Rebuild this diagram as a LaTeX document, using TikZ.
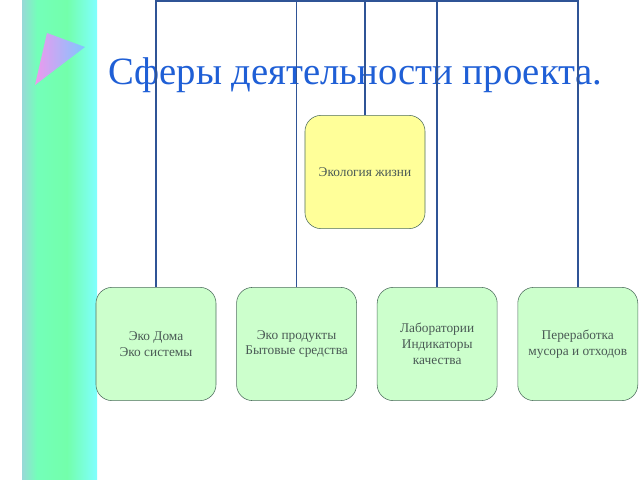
\documentclass[tikz,border=0pt]{standalone}
\usepackage{fontspec}
\setmainfont{Liberation Serif}
\usetikzlibrary{positioning}

\definecolor{ramka}{HTML}{2F5496}
\definecolor{titul}{HTML}{1F5FD6}
\definecolor{zelen}{HTML}{CCFFCC}
\definecolor{zhelt}{HTML}{FFFF99}
\definecolor{kontur}{HTML}{4F6F5F}
\definecolor{tekst}{HTML}{4A5A55}

\pgfdeclarehorizontalshading{polosa}{100bp}{
  color(0bp)=(blue!30!cyan!40);
  color(15bp)=(violet!25!blue!30);
  color(35bp)=(green!50!cyan!55);
  color(55bp)=(green!60!cyan!55);
  color(75bp)=(cyan!50);
  color(90bp)=(cyan!30!blue!20);
  color(100bp)=(cyan!35)}

\tikzset{
  sfera/.style={draw=kontur, fill=zelen, rounded corners=0.4cm, minimum width=3cm,
    minimum height=2.83cm, align=center, text=tekst, font=\fontsize{9.5}{11.3}\selectfont},
  glavnaya/.style={sfera, fill=zhelt},
  svyaz/.style={draw=ramka, line width=1.1pt}
}

\begin{document}
\begin{tikzpicture}[x=0.025cm,y=-0.025cm]
% Fon i granicy
\useasboundingbox (0,0) rectangle (640,480);
\fill[white] (0,0) rectangle (640,480);

% Polosa sleva
\shade[shading=polosa] (22,0) rectangle (97,480);
\shade[left color=violet!35!magenta!40, right color=blue!45!cyan!50] (47,33) -- (85,47) -- (35,85) -- cycle;

% Zagolovok
\node[text=titul, font=\fontsize{27.5}{32}\selectfont, anchor=base west] (zagolovok) at (104,85) {Сферы деятельности проекта.};

% Bloki
\node[glavnaya] (ekologiya) at (365,172) {Экология жизни};
\node[sfera] (doma) at (156,344) {Эко Дома\\Эко системы};
\node[sfera, right=0.5cm of doma] (produkty) {Эко продукты\\Бытовые средства};
\node[sfera, right=0.5cm of produkty] (laboratorii) {Лаборатории\\Индикаторы\\качества};
\node[sfera, right=0.5cm of laboratorii] (pererabotka) {Переработка\\мусора и отходов};

% Svyazi
\coordinate (verh) at (365,1);
\draw[svyaz] (verh) -- (ekologiya);
\foreach \blok in {doma,produkty,laboratorii,pererabotka}
  \draw[svyaz] (\blok.north) |- (verh);

\end{tikzpicture}
\end{document}
